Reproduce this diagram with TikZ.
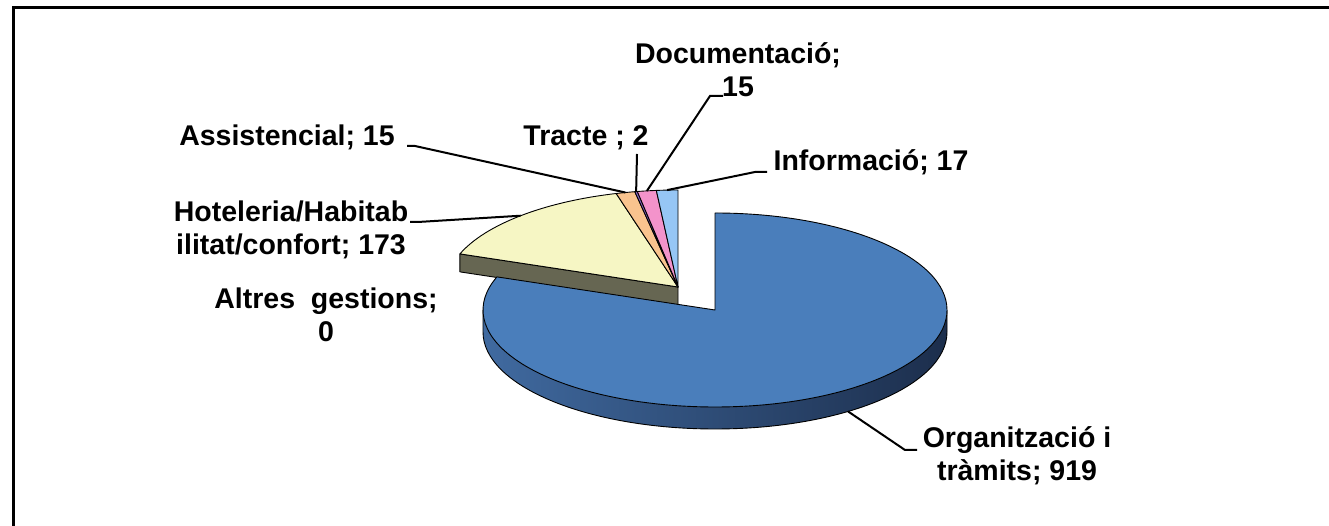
\documentclass[tikz,border=0pt]{standalone}
\usepackage{fontspec}
\setmainfont{Liberation Sans}
\usetikzlibrary{calc}

% slice colours
\definecolor{orgBlue}{RGB}{74,126,187}
\definecolor{orgSideL}{RGB}{64,106,160}
\definecolor{orgSideM}{RGB}{52,88,138}
\definecolor{orgSideR}{RGB}{28,46,76}
\definecolor{hotYellow}{RGB}{246,246,196}
\definecolor{hotSide}{RGB}{102,102,82}
\definecolor{assOrange}{RGB}{249,195,142}
\definecolor{traPurple}{RGB}{138,100,200}
\definecolor{docPink}{RGB}{243,147,203}
\definecolor{infBlue}{RGB}{150,198,245}

\begin{document}
\begin{tikzpicture}[x=1pt,y=1pt,
  lbl/.style={font=\fontsize{28.5}{33}\selectfont\bfseries, inner sep=0pt, align=center},
  slice/.style={draw=black, line width=0.9pt, line join=round},
  leader/.style={draw=black, line width=2pt}]

\useasboundingbox (0,0) rectangle (1329,526);

% Define the radii of the pie
\def\rx{232pt }
\def\ry{97pt }

% Centre of the small slices and of the pulled-out slice
\coordinate (C1) at (678,239);
\coordinate (C2) at (715,216);

% Chart frame
\draw[line width=3pt] (13,-5) -- (13,518) -- (1335,518);

% Cut face of the small slices (seen through the gap)
\draw[slice, fill=hotSide] (C1) -- ($(C1)+(160.04:\rx and \ry)$) -- ++(0,-18)
  -- ($(C1)+(0,-18)$) -- cycle;

% Top of the small slices
\foreach \a/\b/\c in {160.04/105.46/hotYellow, 105.46/100.73/assOrange,
  100.73/100.10/traPurple, 100.10/95.36/docPink, 95.36/90/infBlue}
  \draw[slice, fill=\c] (C1) -- ($(C1)+(\a:\rx and \ry)$)
    arc[start angle=\a, end angle=\b, x radius=\rx, y radius=\ry] -- cycle;

% Side of the big slice
\shade[left color=orgSideL, middle color=orgSideM, right color=orgSideR]
  ($(C2)+(180:\rx and \ry)$) arc[start angle=180, end angle=360, x radius=\rx, y radius=\ry]
  -- ++(0,-22) arc[start angle=360, end angle=180, x radius=\rx, y radius=\ry] -- cycle;
\draw[slice] ($(C2)+(180:\rx and \ry)$) -- ++(0,-22)
  arc[start angle=180, end angle=360, x radius=\rx, y radius=\ry] -- ++(0,22);

% Top of the big slice
\draw[slice, fill=orgBlue] (C2) -- ($(C2)+(90:\rx and \ry)$)
  arc[start angle=90, end angle=-199.96, x radius=\rx, y radius=\ry] -- cycle;

% Points where the leaders meet the slices
\coordinate (pHot) at ($(C1)+(132.7:\rx and \ry)$);
\coordinate (pAss) at ($(C1)+(103.1:\rx and \ry)$);
\coordinate (pTra) at ($(C1)+(100.4:\rx and \ry)$);
\coordinate (pDoc) at ($(C1)+(97.7:\rx and \ry)$);
\coordinate (pInf) at ($(C1)+(92.7:\rx and \ry)$);
\coordinate (pOrg) at ($(C2)+(-55:\rx and \ry)+(0,-22)$);

% Labels
\node[lbl] (lDoc) at (738,456) {Documentació;\\15};
\node[lbl] (lTra) at (586,388) {Tracte ; 2};
\node[lbl] (lAss) at (287,389) {Assistencial; 15};
\node[lbl] (lInf) at (871,364) {Informació; 17};
\node[lbl] (lHot) at (291,296) {Hoteleria/Habitab\\ilitat/confort; 173};
\node[lbl] (lAlt) at (326,211) {Altres\ \ gestions;\\0};
\node[lbl] (lOrg) at (1017,70) {Organització i\\tràmits; 919};

% Leader starts
\coordinate (kDoc) at (723,430);
\coordinate (kTra) at (637,372);
\coordinate (kAss) at (407,380);
\coordinate (kInf) at (767,354);
\coordinate (kHot) at (410,304);
\coordinate (kOrg) at (917,76);

% Leader lines
\draw[leader] (kDoc) -- ++(-13,0) -- (pDoc);
\draw[leader] (kTra) -- (pTra);
\draw[leader] (kAss) -- ++(8,0) -- (pAss);
\draw[leader] (kInf) -- ++(-12,0) -- (pInf);
\draw[leader] (kHot) -- ++(8,0) -- (pHot);
\draw[leader] (kOrg) -- ++(-12,0) -- (pOrg);

\end{tikzpicture}
\end{document}
